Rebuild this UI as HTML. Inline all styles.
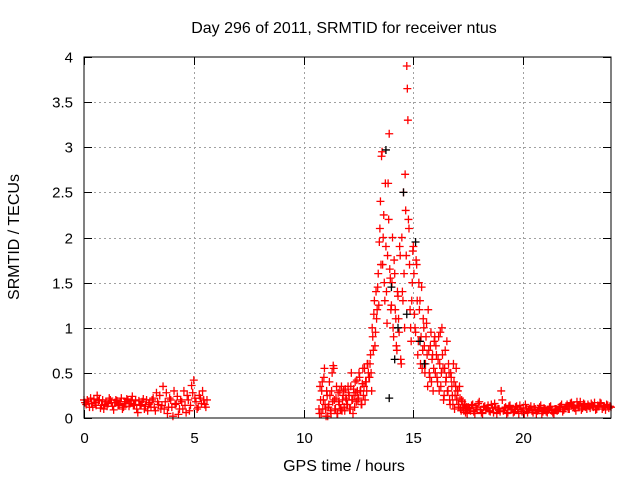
<!DOCTYPE html>
<html><head><meta charset="utf-8"><style>
html,body{margin:0;padding:0;background:#fff;}
svg{display:block;font-family:"Liberation Sans",sans-serif;}
</style></head><body>
<svg id="chart" width="640" height="480">
<text x="344" y="33" text-anchor="middle" font-size="16">Day 296 of 2011, SRMTID for receiver ntus</text>
<text x="344" y="471" text-anchor="middle" font-size="16">GPS time / hours</text>
<text transform="translate(19,237) rotate(-90)" text-anchor="middle" font-size="16">SRMTID / TECUs</text>
<g id="grid"></g>
<g id="ticks"></g>
<g id="marks"></g>
<rect x="84" y="57" width="527" height="361" fill="none" stroke="#000" stroke-width="1"/>
</svg>
<script>
const xTicks = [0,5,10,15,20];
const yTicks = [0,0.5,1,1.5,2,2.5,3,3.5,4];
const yTickLabels = ["0","0.5","1","1.5","2","2.5","3","3.5","4"];
const segStart = [0,0.05,10.7,13.025,10.725,16.025,17.5,17.55];
const segStep = [0.1,0.1,0.05,0.05,0.05,0.05,0.1,0.1];
const segValues = [
[0.2,0.15,0.18,0.22,0.12,0.17,0.25,0.2,0.14,0.1,0.18,0.16,0.2,0.13,0.17,0.19,0.15,0.22,0.12,0.18,0.2,0.16,0.24,0.14,0.1,0.19,0.15,0.21,0.13,0.08,0.17,0.2,0.12,0.28,0.15,0.1,0.35,0.18,0.05,0.22,0.12,0.3,0.16,0.04,0.2,0.1,0.14,0.25,0.08,0.36,0.42,0.18,0.12,0.22,0.3,0.15,0.2],
[0.17,0.2,0.12,0.16,0.21,0.14,0.19,0.11,0.2,0.15,0.13,0.22,0.17,0.09,0.2,0.14,0.18,0.1,0.16,0.21,0.13,0.19,0.15,0.2,0.06,0.14,0.18,0.1,0.2,0.15,0.12,0.22,0.08,0.18,0.25,0.14,0.1,0.28,0.12,0.2,0.02,0.15,0.24,0.1,0.18,0.3,0.06,0.2,0.14,0.28,0.22,0.1,0.25,0.16,0.2,0.12],
[0.1,0.35,0.05,0.4,0.2,0.55,
 0.1,0.3,0.02,0.15,0.25,0.05,0.5,0.58,0.2,0.1,0.35,0.05,0.18,0.3,0.1,0.08,0.25,0.12,0.32,0.2,
 0.15,0.28,0.1,0.35,0.2,0.05,0.25,0.4,0.18,0.3,0.22,0.45,0.3,0.15,0.55,0.35,0.2,0.4,0.6,0.5,
 0.45,0.7,0.3,0.9,1.15,0.8,1.4,1.2,1.6,1.95,2.4,2.9,1.7,2.25,1.3,1.9,1.05,2.6,3.15,1.55,
 1.25,2.0,0.9,1.6,1.1,0.75,1.35,0.95,1.8,0.6,1.4,2.5,1.0,2.3,3.9,3.3,2.1,1.2,0.85,1.5,
 1.9,1.15,0.95,1.7,0.7,1.5,1.3,0.9,0.55,1.1,0.8,0.6,1.05,0.35,0.75,0.45,0.95,0.65,0.3,0.85,
 0.5,0.7,0.4,0.9,0.6,0.35,1.0,0.55,0.25,0.75,0.45,0.3,0.6,0.2,0.5,0.35,0.15,0.4,0.25,0.55,
 0.3,0.15,0.35,0.1,0.2,0.12,0.08,0.15,0.1,0.05],
[0.6,0.5,1.0,0.75,1.3,0.95,1.1,1.45,1.25,2.1,1.7,2.95,2.0,1.5,2.6,1.4,1.8,2.2,1.65,1.2,
 1.5,1.0,1.75,1.2,0.8,1.4,1.1,1.9,0.65,2.0,1.3,1.6,2.7,1.8,3.65,2.2,1.7,1.0,1.3,1.85,
 1.6,1.0,1.75,1.3,0.85,1.2,0.6,1.45,0.75,1.0,0.5,0.9,0.7,1.2,0.5,0.8,0.4,0.7,0.55,0.9],
[0.05,0.2,0.3,0.1,0.45,0.15,0.02,0.25,0.12,0.4,0.08,0.3,0.18,0.55,0.1,0.22,0.05,0.28,0.15,0.1,0.35,0.2,0.3,0.08,0.22,0.15,0.35,0.25,0.1,0.5,0.2,0.32,0.12,0.28,0.42,0.2,0.5,0.3,0.15,0.38,0.25,0.55,0.4,0.3,0.6,0.45],
[0.8,0.45,0.65,0.3,0.95,0.5,0.7,0.2,0.55,0.4,0.85,0.3,0.5,0.15,0.45,0.25,0.6,0.1,0.35,0.2,0.3,0.12,0.22,0.08,0.18,0.1,0.15,0.06,0.12,0.1],
[0.12,0.08,0.15,0.05,0.1,0.18,0.06,0.12,0.09,0.14,0.07,0.11,0.16,0.05,0.1,0.3,0.08,0.12,0.06,0.14,0.1,0.07,0.13,0.05,0.09,0.11,0.15,0.06,0.1,0.08,0.12,0.05,0.09,0.14,0.07,0.1,0.06,0.12,0.08,0.05,0.1,0.09,0.13,0.07,0.11,0.15,0.1,0.17,0.12,0.08,0.14,0.18,0.11,0.15,0.1,0.13,0.16,0.12,0.09,0.14,0.17,0.1,0.13,0.15,0.11,0.12],
[0.1,0.14,0.07,0.12,0.16,0.09,0.05,0.13,0.11,0.08,0.15,0.06,0.12,0.1,0.07,0.2,0.11,0.05,0.13,0.09,0.06,0.12,0.1,0.14,0.07,0.05,0.11,0.09,0.13,0.06,0.1,0.08,0.12,0.05,0.11,0.07,0.09,0.13,0.06,0.1,0.08,0.12,0.15,0.09,0.13,0.1,0.16,0.14,0.11,0.18,0.13,0.09,0.16,0.12,0.15,0.11,0.14,0.17,0.1,0.13,0.16,0.12,0.09,0.14,0.13]
];
const blackHours = [13.75,14.0,14.3,14.55,14.7,15.1,15.3,15.5,13.9,14.15];
const blackValues = [2.97,1.45,1.0,2.5,1.15,1.95,0.85,0.6,0.22,0.65];

const NS='http://www.w3.org/2000/svg';
const L=84,R=611,T=57,B=418;
function xs(h){return L+(h/24)*(R-L);}
function ys(v){return B-(v/4)*(B-T);}
const grid=document.getElementById('grid'),ticks=document.getElementById('ticks'),marks=document.getElementById('marks');
function line(p,x1,y1,x2,y2,st,dash){const l=document.createElementNS(NS,'line');l.setAttribute('x1',x1);l.setAttribute('y1',y1);l.setAttribute('x2',x2);l.setAttribute('y2',y2);l.setAttribute('stroke',st);if(dash)l.setAttribute('stroke-dasharray',dash);p.appendChild(l);return l;}
function txt(x,y,s,anchor,name){const t=document.createElementNS(NS,'text');t.setAttribute('x',x);t.setAttribute('y',y);t.setAttribute('text-anchor',anchor);t.setAttribute('font-size','15');t.textContent=s;


ticks.appendChild(t);}
yTicks.forEach((v,i)=>{const y=Math.round(ys(v))+0.5;
 if(v>0&&v<4){const g=line(grid,L,y,R,y,'#a0a0a0','2,3');
 
 }
 line(ticks,L,y,L+8,y,'#000');line(ticks,R-8,y,R,y,'#000');
 txt(73,y+5,yTickLabels[i],'end','y-tick-label');});
xTicks.forEach(h=>{const x=Math.round(xs(h))+0.5;
 if(h>0){const g=line(grid,x,T,x,B,'#a0a0a0','2,3');
 
 }
 line(ticks,x,B-8,x,B,'#000');line(ticks,x,T,x,T+8,'#000');
 txt(x,443,String(h),'middle','x-tick-label');});
function plus(h,v,col,name){const x=xs(h),y=ys(v);const p=document.createElementNS(NS,'path');
 p.setAttribute('d','M'+(x-4)+' '+y+'h8M'+x+' '+(y-4)+'v8');p.setAttribute('stroke',col);p.setAttribute('stroke-width','1.3');
 
 
 marks.appendChild(p);}
segValues.forEach((vals,s)=>vals.forEach((v,i)=>plus(segStart[s]+i*segStep[s],v,'#ff0000','srmtid-point')));
blackHours.forEach((h,i)=>plus(h,blackValues[i],'#000000','srmtid-point-alt'));
</script>
</body></html>
